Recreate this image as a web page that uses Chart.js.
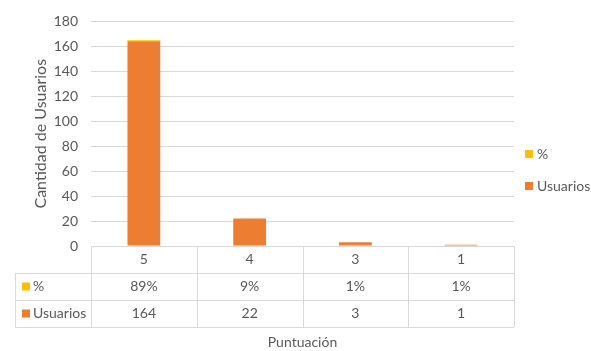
<!DOCTYPE html>
<html lang="es">
<head>
<meta charset="UTF-8">
<title>Puntuación</title>
<script src="https://cdn.jsdelivr.net/npm/chart.js@4.4.1/dist/chart.umd.min.js"></script>
<style>
  html, body { margin: 0; padding: 0; background: #fff; }
  #wrap { width: 591px; height: 351px; position: relative; }
</style>
</head>
<body>
<div id="wrap"><canvas id="chart"></canvas></div>
<script>
const categorias = ['5', '4', '3', '1'];
const usuarios = [164, 22, 3, 1];
const porcentaje = [0.89, 0.09, 0.01, 0.01];
const yMax = 180;
const yPaso = 20;

const NARANJA = '#ED7D31';
const AMARILLO = '#FFC000';
const GRIS = '#595959';
const LINEA = '#d9d9d9';
const FUENTE = 'Lato, "Open Sans", sans-serif';

// data table under the axis + legend on the right
const tablaDatos = {
  id: 'tablaDatos',
  afterDraw(chart) {
    const { ctx, chartArea } = chart;
    const n = categorias.length;
    const w = (chartArea.right - chartArea.left) / n;
    const top = Math.round(chartArea.bottom);
    const rowH = 27;
    const izq = 15;
    const der = chartArea.right;

    ctx.save();
    ctx.strokeStyle = LINEA;
    ctx.lineWidth = 1;
    ctx.beginPath();
    ctx.moveTo(chartArea.left, top + 0.5); ctx.lineTo(der, top + 0.5);
    for (let r = 1; r <= 3; r++) {
      ctx.moveTo(izq, top + r * rowH + 0.5); ctx.lineTo(der, top + r * rowH + 0.5);
    }
    for (let i = 0; i <= n; i++) {
      const xv = Math.round(chartArea.left + i * w) + 0.5;
      ctx.moveTo(xv, top); ctx.lineTo(xv, top + 3 * rowH);
    }
    ctx.moveTo(izq + 0.5, top + rowH); ctx.lineTo(izq + 0.5, top + 3 * rowH);
    ctx.stroke();

    ctx.font = '14px ' + FUENTE;
    ctx.fillStyle = GRIS;
    ctx.textAlign = 'center';
    ctx.textBaseline = 'middle';
    categorias.forEach((c, i) => {
      const cx = chart.scales.x.getPixelForValue(i);
      ctx.fillText(c, cx, top + rowH * 0.5);
      ctx.fillText(Math.round(porcentaje[i] * 100) + '%', cx, top + rowH * 1.5);
      ctx.fillText(String(usuarios[i]), cx, top + rowH * 2.5);
    });

    // row headers
    const filas = [['%', AMARILLO], ['Usuarios', NARANJA]];
    ctx.textAlign = 'left';
    filas.forEach(([txt, col], r) => {
      const cy = top + rowH * (1.5 + r);
      ctx.fillStyle = col;
      ctx.fillRect(22, cy - 4, 8, 8);
      ctx.fillStyle = GRIS;
      ctx.fillText(txt, 33, cy);
    });

    // legend
    filas.forEach(([txt, col], r) => {
      const cy = 154 + r * 32;
      ctx.fillStyle = col;
      ctx.fillRect(525, cy - 4, 8, 8);
      ctx.fillStyle = GRIS;
      ctx.fillText(txt, 537, cy);
    });

    // x title
    ctx.textAlign = 'center';
    ctx.font = '14px ' + FUENTE;
    ctx.fillText('Puntuación', (chartArea.left + der) / 2, 342);
    ctx.restore();
  }
};

new Chart(document.getElementById('chart'), {
  type: 'bar',
  data: {
    labels: categorias,
    datasets: [
      { label: 'Usuarios', data: usuarios, backgroundColor: NARANJA },
      { label: '%', data: porcentaje, backgroundColor: AMARILLO }
    ]
  },
  options: {
    responsive: true,
    maintainAspectRatio: false,
    animation: false,
    layout: { padding: { top: 17, right: 77, bottom: 105, left: 0 } },
    categoryPercentage: 1,
    barPercentage: 0.31,
    plugins: {
      legend: { display: false },
      tooltip: { enabled: false }
    },
    scales: {
      x: {
        stacked: true,
        display: false
      },
      y: {
        stacked: true,
        min: 0,
        max: yMax,
        ticks: { stepSize: yPaso, padding: 13, color: GRIS, font: { family: FUENTE, size: 14 } },
        grid: { color: LINEA, drawTicks: false },
        border: { display: false },
        title: {
          display: true,
          text: 'Cantidad de Usuarios',
          color: GRIS,
          font: { family: FUENTE, size: 16 },
          padding: { top: 31 }
        },
        afterFit(scale) { scale.width = 91; }
      }
    }
  },
  plugins: [tablaDatos]
});
</script>
</body>
</html>
